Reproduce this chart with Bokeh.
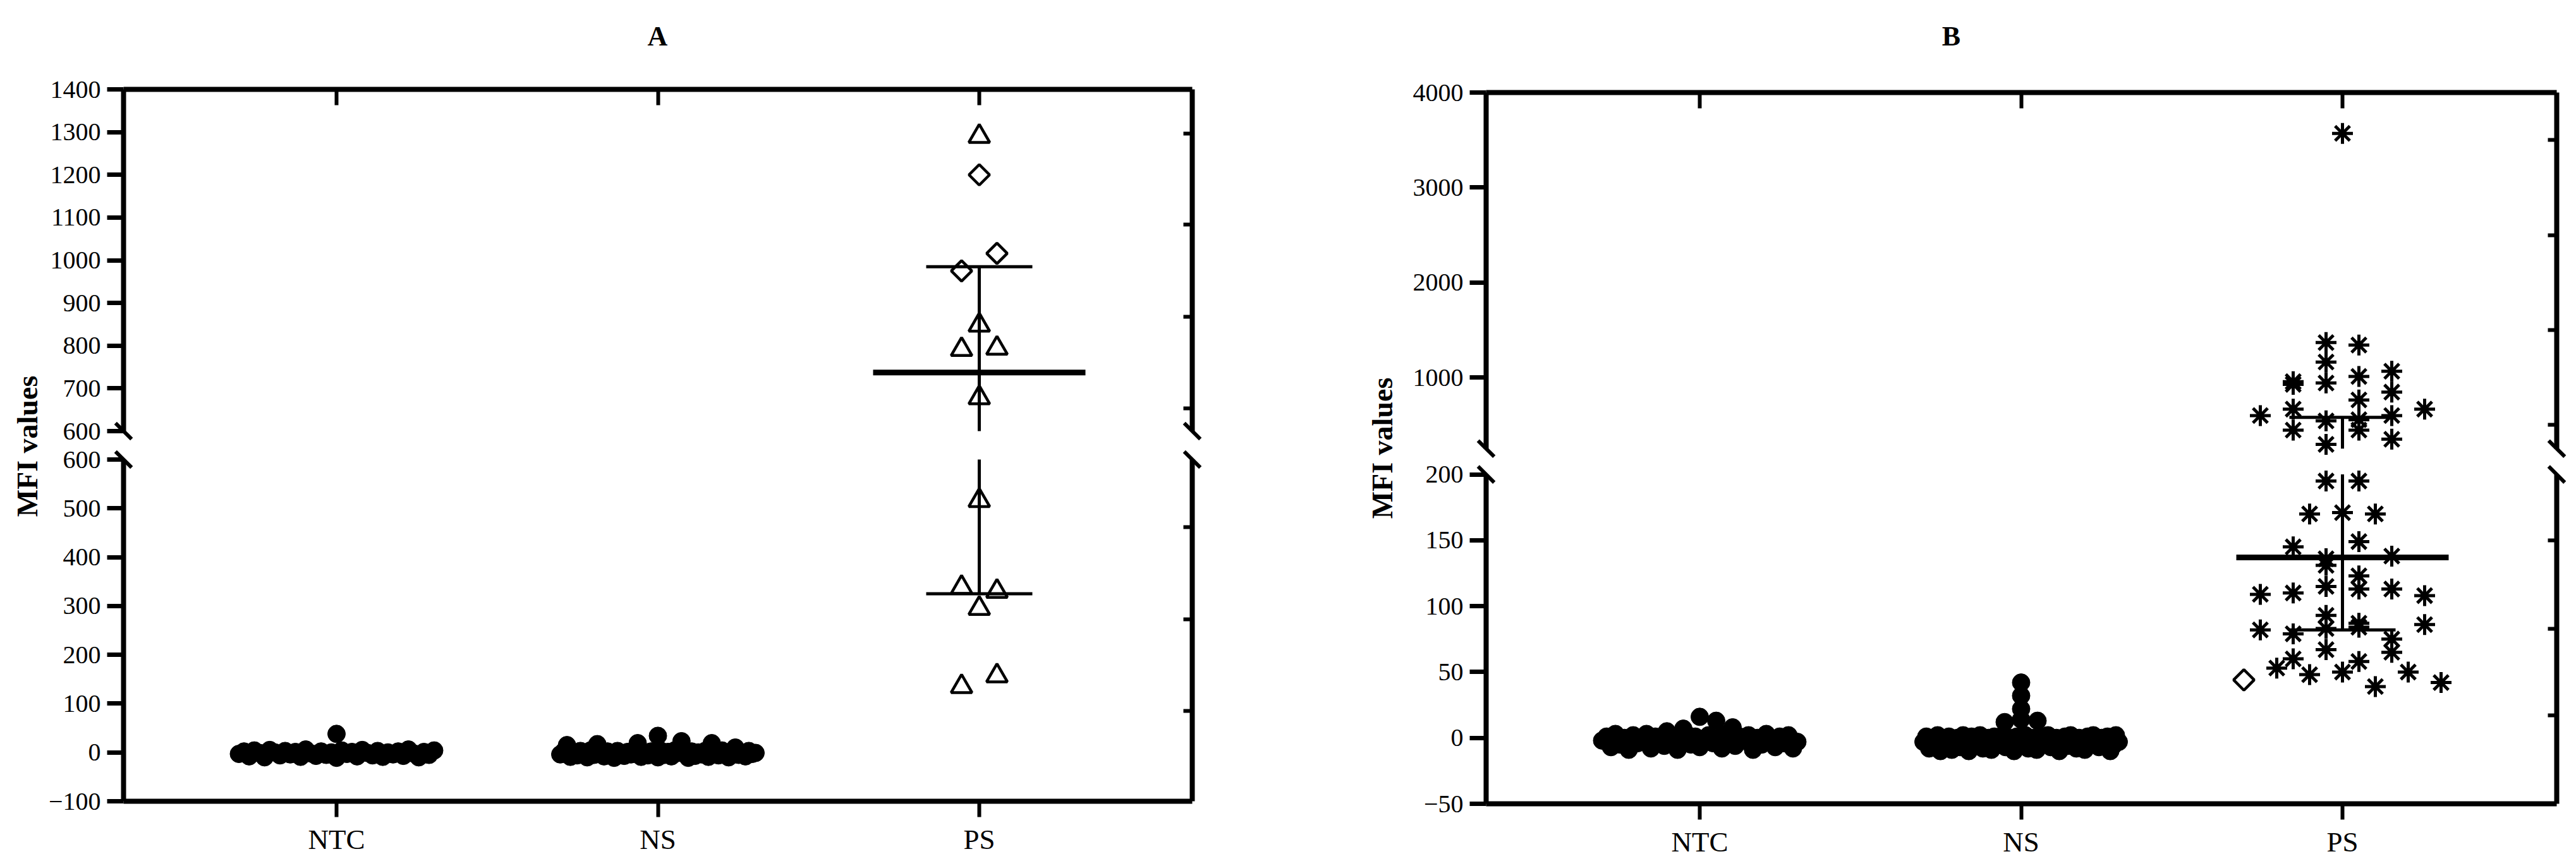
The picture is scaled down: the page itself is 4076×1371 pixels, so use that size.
import math
from bokeh.plotting import figure
from bokeh.models import Range1d, LinearAxis, FixedTicker, Label
from bokeh.layouts import row
from bokeh.embed import file_html
from bokeh.resources import INLINE

FONT = "Liberation Serif"

# ------------------------------------------------------------------ data
categories = ["NTC", "NS", "PS"]
cat_pos = [1, 2, 3]

# Panel A (MFI values)
A_NTC = [-3, 2, -8, 4, -1, -10, 5, 0, -6, 3, -4, 1, -9, 6, -2, -7, 2, -5, 0, -11,
         4, -3, 1, -8, 5, -1, -6, 3, -9, 0, 38, -4, 2, -7, 6, -2, -10, 1, -5, 4]
A_NS = [-4, 2, 15, -9, 1, -6, 3, -2, -10, 4, -5, 17, 0, -8, 2, -3, -11, 3, -1, -7,
        1, -4, 4, 19, -9, 0, -6, 2, -2, -10, 3, -5, 1, -8, 4, -1, 23, -3, -11, 2,
        -7, 0, -4, 3, -9, 19, 1, -6, 4, -2, -10, 2, 10, -5, 0, -8, 3, -3, -1, 34]
A_PS_diamond = [1200, 975, 1016]
A_PS_triangle = [1290, 848, 791, 794, 678, 516, 338, 330, 295, 135, 157]
A_PS_median, A_PS_q1, A_PS_q3 = 737, 325, 985
A_upper_ticks = [600, 700, 800, 900, 1000, 1100, 1200, 1300, 1400]
A_lower_ticks = [-100, 0, 100, 200, 300, 400, 500, 600]
A_right_upper_ticks = [653, 867, 1083, 1297]
A_right_lower_ticks = [85, 273, 462]

# Panel B (MFI values)
B_NTC = [-2, 1, -7, 3, -5, 0, -9, 2, -4, -1, 3, -8, 1, -3, 5, -6, 2, 0, -9, -2,
         7, 3, -5, 1, -7, -1, 16, 2, -4, 0, -8, 13, 3, -3, -6, 1, -2, 8, 2, -9,
         0, -5, 3, -1, -7, 1, -4, 2, -8, -3]
B_NS = [-3, 1, -8, 0, -6, 2, -10, -1, -5, 1, -9, -2, 0, -7, 2, -4, -10, 1, -6, -1,
        2, -8, -3, 0, -9, 1, -5, -2, 12, 2, -7, -4, 0, -10, 1, -6, 22, -1, 2, -8,
        -3, 14, 0, -9, -2, 1, -5, 42, 2, -7, -1, 0, -10, -4, 32, 1, -6, 2, -3, -8,
        13, 0, -1, -9, 1, -5, 2, -2, -7, 0, -4, 1, -10, -6, 2, -3]
B_PS_diamond = [44]
B_PS_star = [3570, 1367, 1341, 955, 1162, 1010, 1065, 927, 941, 763, 845,
             598, 666, 542, 555, 598, 666, 445, 295, 445, 349,
             195, 195, 170, 171, 170, 145, 136, 149, 138, 131,
             123, 109, 110, 115, 113, 113, 108, 82, 79, 83, 84, 93, 75, 86, 87,
             60, 67, 58, 65, 53, 48, 50, 39, 50, 42]
B_PS_median, B_PS_q1, B_PS_q3 = 137, 82, 580
B_upper_ticks = [1000, 2000, 3000, 4000]
B_lower_ticks = [-50, 0, 50, 100, 150, 200]
B_right_upper_ticks = [500, 1500, 2500, 3500]
B_right_lower_ticks = [17, 83, 150]

# ------------------------------------------------------------------ layout (px)
FIG_W, FIG_H, PAGE_OFF = 2038, 1371, 0
PX_PER_CAT = 508.5

LAYOUT_A = dict(x0=0, x_ntc=532, x_left=195, x_right=1886,
                upper=(1400, 141, 600, 682), upper_ext=(600, 1400),
                lower=(600, 727, -100, 1268), lower_ext=(-100, 600),
                title=("A", 1040, 57), ylab=(43, 706), ps_col=56)
LAYOUT_B = dict(x0=2038, x_ntc=2689, x_left=2351, x_right=4045,
                upper=(4000, 146, 1000, 597), upper_ext=(250, 4000),
                lower=(200, 750.6, -50, 1272), lower_ext=(-50, 200),
                title=("B", 3087, 57), ylab=(2187, 709), ps_col=52)


def swarm(vals, k, bin_px, col_px, max_px):
    """Row-binned dot-plot layout, returns x offsets in category units."""
    if not vals:
        return []
    vmin = min(vals)
    hv = bin_px / k
    rows = {}
    for i, v in enumerate(vals):
        rows.setdefault(int((v - vmin) // hv), []).append(i)
    off = [0.0] * len(vals)
    for idx in rows.values():
        n = len(idx)
        step = col_px if n < 2 else min(col_px, max_px / (n - 1))
        for j, i in enumerate(idx):
            off[i] = (j - (n - 1) / 2) * step / PX_PER_CAT
    return off


def make_panel(L, ntc, ns, ps_items, stats, ticks):
    def xv(X):
        return 1 + (X - L["x_ntc"]) / PX_PER_CAT

    def seg(s):
        vt, yt, vb, yb = s
        k = (yb - yt) / (vt - vb)
        rng = Range1d(vb - (PAGE_OFF + FIG_H - yb) / k, vt + (yt - PAGE_OFF) / k)
        return rng, k, (lambda Y: vt - (Y - yt) / k)

    up_rng, k_up, yv_up = seg(L["upper"])
    lo_rng, k_lo, yv_lo = seg(L["lower"])

    p = figure(width=FIG_W, height=FIG_H, output_backend="svg", toolbar_location=None,
               x_range=Range1d(xv(L["x0"]), xv(L["x0"] + FIG_W)), y_range=up_rng,
               x_axis_type=None, y_axis_type=None, min_border=0, title=None,
               outline_line_color=None)
    p.extra_y_ranges = {"lower": lo_rng}

    lx, rx = xv(L["x_left"]), xv(L["x_right"])
    segs = [("default", L["upper_ext"], ticks[0], ticks[2]),
            ("lower", L["lower_ext"], ticks[1], ticks[3])]

    def style(ax, lw=8):
        ax.axis_line_width = lw
        ax.axis_line_color = "black"
        ax.major_tick_line_width = 7
        ax.major_tick_line_color = "black"
        ax.minor_tick_line_color = None
        ax.major_label_text_font = FONT
        ax.major_label_text_color = "black"

    for rname, ext, lt, rt in segs:
        ax = LinearAxis(y_range_name=rname, fixed_location=lx, bounds=ext,
                        ticker=FixedTicker(ticks=lt), major_tick_out=26, major_tick_in=0,
                        major_label_standoff=10)
        style(ax)
        ax.major_label_text_font_size = "40px"
        p.add_layout(ax, "left")
        ax = LinearAxis(y_range_name=rname, fixed_location=rx, bounds=ext,
                        ticker=FixedTicker(ticks=rt), major_tick_out=0, major_tick_in=14,
                        major_label_overrides={t: "" for t in rt})
        style(ax)
        ax.major_tick_line_width = 6
        p.add_layout(ax, "right")

    top = LinearAxis(fixed_location=L["upper_ext"][1], bounds=(lx, rx),
                     ticker=FixedTicker(ticks=cat_pos), major_tick_in=25, major_tick_out=0,
                     major_label_overrides={c: "" for c in cat_pos})
    style(top)
    top.major_tick_line_width = 6
    p.add_layout(top, "above")
    bot = LinearAxis(y_range_name="lower", fixed_location=L["lower_ext"][0], bounds=(lx, rx),
                     ticker=FixedTicker(ticks=cat_pos), major_tick_out=25, major_tick_in=0,
                     major_label_overrides=dict(zip(cat_pos, categories)),
                     major_label_standoff=10)
    style(bot)
    bot.major_tick_line_width = 6
    bot.major_label_text_font_size = "45px"
    p.add_layout(bot, "below")

    # axis break marks
    for x in (lx, rx):
        p.scatter([x], [L["upper_ext"][0]], marker="dash", size=36, angle=-math.pi / 4,
                  line_color="black", line_width=6)
        p.scatter([x], [L["lower_ext"][1]], marker="dash", size=36, angle=-math.pi / 4,
                  line_color="black", line_width=6, y_range_name="lower")

    # NTC / NS filled circles (lower segment)
    for c, vals in ((1, ntc), (2, ns)):
        off = swarm(vals, k_lo, 27, 26, 309)
        p.scatter([c + o for o in off], vals, marker="circle", size=28,
                  fill_color="black", line_color="black", line_width=1, y_range_name="lower")

    # PS group
    split = L["lower_ext"][1]
    marker_style = {
        "triangle": dict(marker="triangle", size=33, fill_color=None, line_width=4.5),
        "diamond": dict(marker="square", size=23, angle=math.pi / 4, fill_color=None, line_width=4.5),
        "star": dict(marker="asterisk", size=33, line_width=5),
    }
    for rname, k, sel in (("default", k_up, lambda v: v > split), ("lower", k_lo, lambda v: v <= split)):
        items = [(kd, v) for kd, v in ps_items if sel(v)]
        vals = [v for _, v in items]
        off = swarm(vals, k, 33, L["ps_col"], 6 * L["ps_col"])
        for kind in marker_style:
            xs = [3 + o for (kd, v), o in zip(items, off) if kd == kind]
            ys = [v for kd, v in items if kd == kind]
            if xs:
                p.scatter(xs, ys, line_color="black", y_range_name=rname, **marker_style[kind])

    med, q1, q3 = stats
    hw_med, hw_cap = 168 / PX_PER_CAT, 84 / PX_PER_CAT
    for v, hw, lw in ((med, hw_med, 9), (q1, hw_cap, 5), (q3, hw_cap, 5)):
        rname = "default" if v > split else "lower"
        p.segment(x0=[3 - hw], y0=[v], x1=[3 + hw], y1=[v], line_color="black",
                  line_width=lw, y_range_name=rname)
    # whiskers Q1..Q3 interrupted by the axis break
    p.segment(x0=[3], y0=[L["upper_ext"][0]], x1=[3], y1=[q3], line_color="black",
              line_width=5)
    p.segment(x0=[3], y0=[q1], x1=[3], y1=[L["lower_ext"][1]], line_color="black",
              line_width=5, y_range_name="lower")

    t, tx, ty = L["title"]
    p.add_layout(Label(x=xv(tx), y=yv_up(ty), text=t, text_font=FONT, text_font_size="44px",
                       text_font_style="bold", text_color="black",
                       text_align="center", text_baseline="middle"))
    yx, yy = L["ylab"]
    p.add_layout(Label(x=xv(yx), y=yv_up(yy), text="MFI values", text_font=FONT,
                       text_font_size="46px", text_font_style="bold", text_color="black",
                       angle=math.pi / 2, text_align="center", text_baseline="middle"))
    return p


pA = make_panel(LAYOUT_A, A_NTC, A_NS,
                [("diamond", v) for v in A_PS_diamond] + [("triangle", v) for v in A_PS_triangle],
                (A_PS_median, A_PS_q1, A_PS_q3),
                (A_upper_ticks, A_lower_ticks, A_right_upper_ticks, A_right_lower_ticks))
pB = make_panel(LAYOUT_B, B_NTC, B_NS,
                [("diamond", v) for v in B_PS_diamond] + [("star", v) for v in B_PS_star],
                (B_PS_median, B_PS_q1, B_PS_q3),
                (B_upper_ticks, B_lower_ticks, B_right_upper_ticks, B_right_lower_ticks))

layout = row(pA, pB, spacing=0)
open("out.html", "w").write(file_html(layout, INLINE))
